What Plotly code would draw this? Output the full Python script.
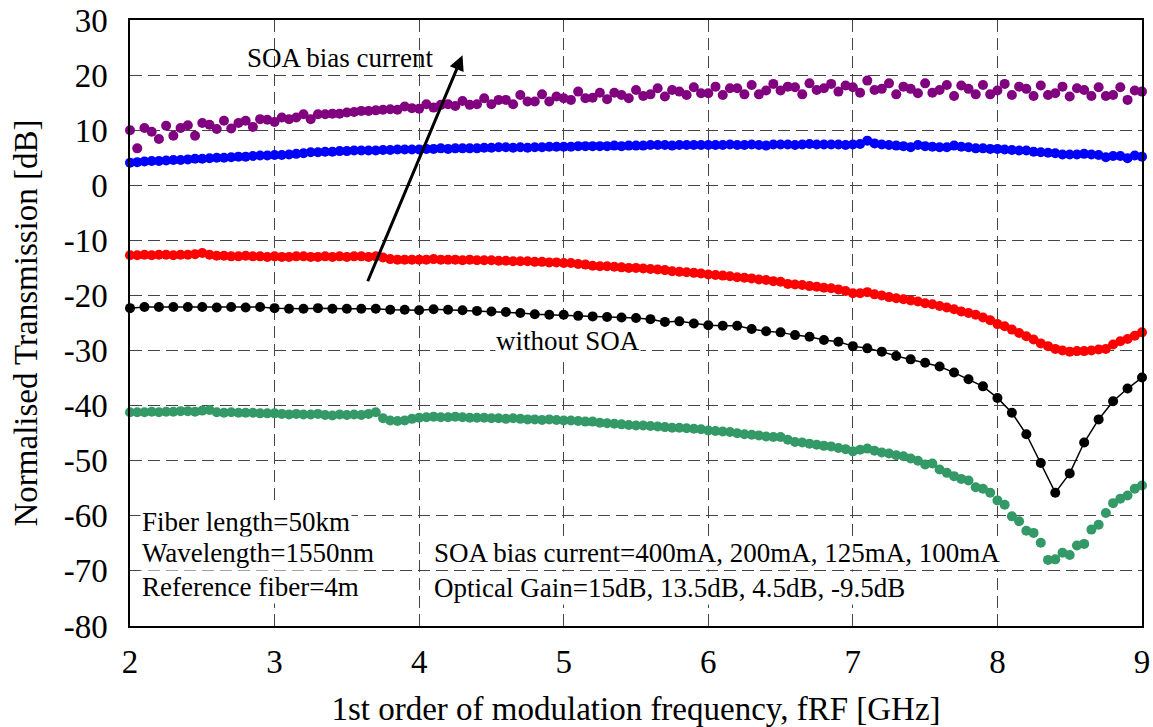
import numpy as np
import plotly.graph_objects as go

# frequency grids [GHz]
freq_dense = [round(2.0 + 0.05 * i, 2) for i in range(141)]
freq_black = [round(2.0 + 0.1 * i, 1) for i in range(71)]

# 400 mA (Gain 15 dB) - purple
purple = [
    10.0, 6.7, 10.4, 9.7, 8.4, 10.8, 9.0, 10.4, 10.9, 9.0, 11.3, 11.0, 10.2, 11.7, 10.3, 11.3, 11.7, 10.6, 12.0, 11.9,
    11.5, 12.3, 12.0, 12.3, 12.9, 12.0, 12.9, 12.9, 13.0, 13.0, 13.2, 13.3, 13.5, 13.5, 13.6, 13.7, 13.8, 13.7, 14.3, 14.0,
    13.9, 14.7, 14.1, 14.6, 14.7, 14.4, 15.3, 14.6, 14.7, 15.8, 14.7, 15.5, 15.5, 14.7, 16.4, 15.2, 15.2, 16.5, 15.2, 16.1,
    15.8, 15.5, 17.0, 15.8, 15.9, 16.8, 15.6, 16.8, 16.4, 15.8, 17.3, 16.2, 16.5, 17.6, 16.1, 17.3, 17.0, 16.4, 17.8, 16.7,
    16.7, 17.9, 16.4, 17.6, 17.6, 16.5, 18.2, 16.5, 17.2, 18.4, 17.2, 17.9, 17.8, 16.5, 18.5, 17.3, 17.6, 18.4, 17.0, 18.1,
    17.8, 16.8, 19.0, 17.3, 17.5, 18.5, 16.5, 17.9, 17.5, 16.7, 18.5, 16.8, 17.3, 18.2, 16.2, 18.1, 17.5, 16.5, 18.2, 16.5,
    17.2, 18.4, 16.4, 17.9, 17.5, 16.2, 18.1, 16.4, 16.7, 17.9, 16.1, 17.6, 17.3, 16.2, 17.8, 16.2, 16.4, 17.8, 15.5, 17.2,
    17.0,
]

# 200 mA (Gain 13.5 dB) - blue
blue = [
    4.1, 4.2, 4.3, 4.4, 4.4, 4.5, 4.6, 4.6, 4.7, 4.8, 4.8, 4.9, 5.0, 5.0, 5.1, 5.2, 5.2, 5.3, 5.4, 5.4,
    5.5, 5.5, 5.6, 5.7, 5.8, 6.0, 6.0, 6.1, 6.1, 6.2, 6.2, 6.3, 6.3, 6.3, 6.3, 6.4, 6.4, 6.5, 6.5, 6.5,
    6.5, 6.6, 6.6, 6.7, 6.6, 6.7, 6.7, 6.7, 6.7, 6.8, 6.8, 6.9, 6.9, 6.8, 6.9, 6.8, 6.9, 6.9, 7.0, 7.0,
    7.0, 7.0, 7.1, 7.1, 7.1, 7.1, 7.1, 7.2, 7.1, 7.2, 7.2, 7.2, 7.3, 7.3, 7.3, 7.2, 7.3, 7.3, 7.3, 7.3,
    7.3, 7.3, 7.3, 7.4, 7.3, 7.3, 7.4, 7.3, 7.2, 7.4, 7.4, 7.4, 7.3, 7.4, 7.5, 7.4, 7.4, 7.4, 7.4, 7.3,
    7.4, 7.5, 8.1, 7.6, 7.4, 7.3, 7.2, 7.1, 6.9, 7.3, 7.1, 7.0, 6.9, 6.9, 7.2, 7.0, 6.9, 6.7, 6.7, 6.6,
    6.6, 6.5, 6.4, 6.3, 6.3, 6.1, 6.0, 5.9, 5.8, 5.6, 5.6, 5.6, 5.7, 5.6, 5.5, 5.1, 5.3, 5.3, 4.9, 5.4,
    5.2,
]

# 125 mA (Gain 4.5 dB) - red
red = [
    -12.7, -12.7, -12.6, -12.7, -12.6, -12.6, -12.7, -12.6, -12.6, -12.5, -12.3, -12.6, -12.8, -12.8, -12.9, -12.9, -12.8, -12.9, -12.9, -13.0,
    -12.9, -13.0, -13.0, -12.9, -12.9, -13.0, -13.0, -12.9, -13.0, -12.9, -13.0, -12.9, -12.9, -13.0, -12.9, -13.1, -13.4, -13.5, -13.5, -13.5,
    -13.5, -13.5, -13.4, -13.5, -13.5, -13.5, -13.6, -13.5, -13.6, -13.6, -13.6, -13.7, -13.7, -13.8, -13.8, -13.8, -13.9, -13.9, -14.0, -14.0,
    -14.1, -14.1, -14.3, -14.4, -14.6, -14.7, -14.7, -14.8, -14.9, -15.0, -15.0, -15.1, -15.2, -15.3, -15.4, -15.6, -15.7, -15.8, -15.9, -16.0,
    -16.2, -16.3, -16.4, -16.5, -16.7, -16.8, -16.9, -17.1, -17.2, -17.4, -17.5, -17.9, -18.0, -18.1, -18.3, -18.4, -18.6, -18.7, -18.9, -19.2,
    -19.6, -19.6, -19.4, -19.8, -20.0, -20.3, -20.5, -20.7, -20.9, -21.1, -21.4, -21.6, -21.9, -22.2, -22.5, -22.9, -23.2, -23.5, -24.0, -24.5,
    -25.2, -25.6, -26.2, -26.8, -27.4, -28.0, -28.7, -29.2, -29.7, -30.0, -30.2, -30.1, -30.1, -30.0, -29.8, -29.7, -28.9, -28.3, -27.9, -27.3,
    -26.7,
]

# 100 mA (Gain -9.5 dB) - green
green = [
    -41.2, -41.2, -41.2, -41.1, -41.2, -41.1, -41.1, -41.0, -41.0, -41.1, -40.9, -40.8, -41.2, -41.3, -41.2, -41.3, -41.3, -41.3, -41.4, -41.4,
    -41.4, -41.5, -41.6, -41.5, -41.6, -41.6, -41.5, -41.7, -41.8, -41.6, -41.7, -41.6, -41.7, -41.5, -41.2, -42.3, -42.7, -42.8, -42.7, -42.4,
    -42.2, -42.1, -42.0, -42.1, -42.1, -42.0, -42.1, -42.2, -42.2, -42.2, -42.3, -42.3, -42.4, -42.3, -42.4, -42.5, -42.5, -42.6, -42.5, -42.6,
    -42.7, -42.7, -42.8, -42.9, -42.9, -43.1, -43.2, -43.3, -43.4, -43.5, -43.6, -43.6, -43.7, -43.8, -43.9, -44.0, -44.0, -44.1, -44.2, -44.3,
    -44.5, -44.6, -44.7, -44.8, -45.0, -45.2, -45.3, -45.4, -45.6, -45.7, -45.7, -46.2, -46.6, -46.7, -46.9, -47.1, -47.3, -47.4, -47.7, -47.9,
    -48.3, -48.0, -47.8, -48.2, -48.5, -48.7, -49.0, -49.2, -49.6, -50.0, -50.7, -50.5, -51.6, -52.2, -52.8, -53.3, -53.6, -54.8, -55.1, -55.8,
    -57.2, -58.0, -60.1, -61.0, -62.7, -63.1, -64.9, -68.0, -67.9, -66.7, -67.1, -65.4, -65.1, -62.5, -61.6, -59.5, -57.7, -56.9, -56.3, -55.1,
    -54.5,
]

# without SOA - black
black = [
    -22.3, -22.1, -22.1, -22.1, -22.1, -22.1, -22.2, -22.1, -22.2, -22.1,
    -22.3, -22.4, -22.4, -22.3, -22.4, -22.4, -22.4, -22.4, -22.6, -22.6,
    -22.7, -22.5, -22.6, -22.7, -22.8, -22.9, -23.0, -23.2, -23.4, -23.5,
    -23.5, -23.7, -23.8, -23.9, -24.0, -24.1, -24.3, -24.8, -24.7, -25.1,
    -25.4, -25.5, -25.5, -26.1, -26.5, -26.7, -27.2, -27.5, -28.1, -28.4,
    -29.2, -29.6, -30.2, -31.0, -31.6, -32.2, -32.9, -34.0, -35.2, -36.5,
    -38.6, -41.3, -45.2, -50.4, -55.8, -52.3, -46.7, -42.5, -39.2, -36.9,
    -34.9,
]

x_ticks = [2, 3, 4, 5, 6, 7, 8, 9]
y_ticks = [30, 20, 10, 0, -10, -20, -30, -40, -50, -60, -70, -80]

FONT = "Liberation Serif"
MS = 10

fig = go.Figure()
for ys, col in [(green, "#339966"), (red, "#ff0000"), (blue, "#0000ff"), (purple, "#800080")]:
    fig.add_trace(go.Scatter(x=freq_dense, y=ys, mode="markers", cliponaxis=False,
                             marker=dict(size=MS, color=col), showlegend=False))
fig.add_trace(go.Scatter(x=freq_black, y=black, mode="lines+markers", cliponaxis=False,
                         line=dict(color="black", width=1.5),
                         marker=dict(size=MS, color="black"), showlegend=False))

grid = dict(showgrid=True, gridcolor="#444444", gridwidth=1, griddash="12px,6px")
fig.update_xaxes(range=[2, 9], tickvals=x_ticks, ticktext=[str(v) for v in x_ticks],
                 showline=True, linecolor="black", linewidth=1.5, mirror=True,
                 ticks="", zeroline=False, ticklabelstandoff=6, automargin=False,
                 tickfont=dict(family=FONT, size=33, color="black"),
                 title=dict(text="1st order of modulation frequency, fRF [GHz]",
                            font=dict(family=FONT, size=33, color="black"), standoff=24),
                 **grid)
fig.update_yaxes(range=[-80, 30], tickvals=y_ticks, ticktext=[str(v) for v in y_ticks],
                 showline=True, linecolor="black", linewidth=1.5, mirror=True,
                 ticks="", zeroline=False, ticklabelstandoff=14, automargin=False,
                 tickfont=dict(family=FONT, size=33, color="black"),
                 title=dict(text="Normalised Transmission [dB]",
                            font=dict(family=FONT, size=33, color="black"), standoff=16),
                 **grid)

ann_font = dict(family=FONT, size=27, color="black")
fig.add_annotation(x=4.30, y=23.6, ax=3.64, ay=-17.7, xref="x", yref="y", axref="x", ayref="y",
                   showarrow=True, arrowhead=2, arrowsize=1, arrowwidth=3, arrowcolor="black", text="")
fig.add_annotation(x=3.45, y=23.1, text="SOA bias current", showarrow=False, font=ann_font)
fig.add_annotation(x=5.03, y=-28.2, text="without SOA", showarrow=False, font=ann_font,
                   bgcolor="white", borderpad=0)

left_lines = [("Fiber length=50km", -61.2), ("Wavelength=1550nm", -66.8), ("Reference fiber=4m", -72.9)]
for txt, yy in left_lines:
    fig.add_annotation(x=2.07, y=yy, xanchor="left", yanchor="middle", align="left",
                       text=txt, showarrow=False, font=ann_font, bgcolor="white", borderpad=1)
right_lines = [("SOA bias current=400mA, 200mA, 125mA, 100mA", -66.8),
               ("Optical Gain=15dB, 13.5dB, 4.5dB, -9.5dB", -73.1)]
for txt, yy in right_lines:
    fig.add_annotation(x=4.09, y=yy, xanchor="left", yanchor="middle", align="left",
                       text=txt, showarrow=False, font=ann_font, bgcolor="white", borderpad=1)

fig.update_layout(width=1153, height=727, margin=dict(l=130, r=11, t=20, b=101),
                  plot_bgcolor="white", paper_bgcolor="white",
                  font=dict(family=FONT, color="black"))
fig.write_html("out.html")
